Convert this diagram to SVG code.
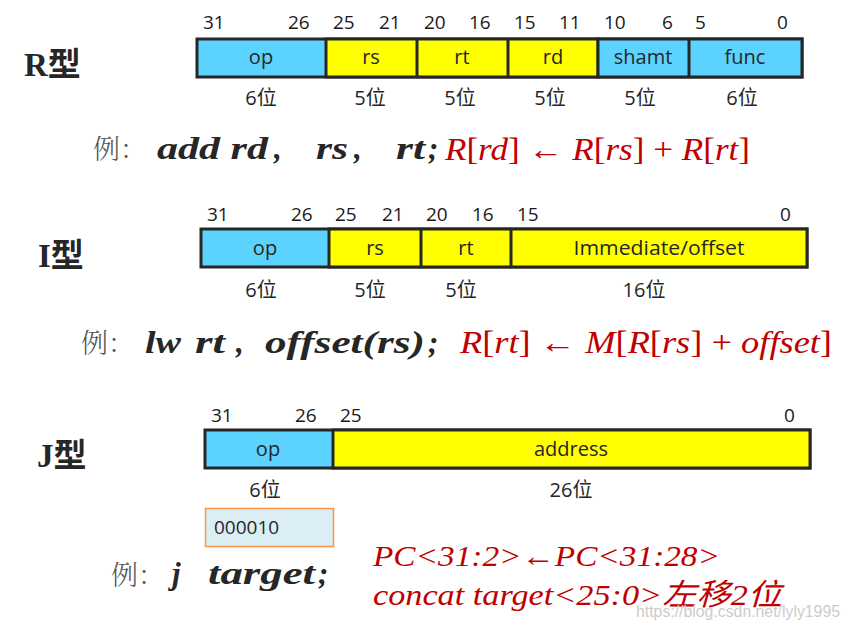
<svg xmlns="http://www.w3.org/2000/svg" width="850" height="632" viewBox="0 0 850 632">
<style>
.bg{fill:#ffffff}
.blue{fill:#5bd3fe;stroke:#262626;stroke-width:3}
.yel{fill:#ffff00;stroke:#262626;stroke-width:3}
.div{stroke:#262626;stroke-width:3}
.bit{font-family:"Open Sans","Noto Sans",sans-serif;font-size:19px;fill:#1a1a1a}
.fld{font-family:"Open Sans","Noto Sans",sans-serif;font-size:20px;fill:#262626;text-anchor:middle}
.wid{font-family:"Open Sans","Noto Sans CJK SC",sans-serif;font-size:20px;fill:#262626;text-anchor:middle}
.typ{font-family:"Liberation Serif","Noto Sans CJK SC",serif;font-size:33px;font-weight:bold;fill:#262626}
.li{font-family:"Noto Serif CJK SC","Noto Sans CJK SC",serif;font-size:27px;fill:#555555;font-weight:300}
.bi{font-family:"Liberation Serif",serif;font-size:31px;font-weight:bold;font-style:italic;fill:#262626}
.red{font-family:"Liberation Serif",serif;font-size:31px;fill:#c00000}
.redi{font-family:"Liberation Serif","Noto Sans CJK SC",serif;font-size:30px;font-style:italic;fill:#c00000}
.wm{font-family:"Liberation Sans",sans-serif;font-size:16px;fill:#cccccc}
</style>
<rect class="bg" x="0" y="0" width="850" height="632"/>

<g id="r-type">
  <text class="typ" x="24" y="76">R型</text>
  <rect class="blue" x="197" y="39" width="605" height="38"/>
  <rect class="yel" x="326" y="39" width="272" height="38"/>
  <rect class="blue" x="598" y="39" width="204" height="38"/>
  <line class="div" x1="417" y1="39" x2="417" y2="77"/>
  <line class="div" x1="508" y1="39" x2="508" y2="77"/>
  <line class="div" x1="689" y1="39" x2="689" y2="77"/>
  <text class="bit" x="203" y="29">31</text>
  <text class="bit" x="288" y="29">26</text>
  <text class="bit" x="333" y="29">25</text>
  <text class="bit" x="379" y="29">21</text>
  <text class="bit" x="424" y="29">20</text>
  <text class="bit" x="469" y="29">16</text>
  <text class="bit" x="514" y="29">15</text>
  <text class="bit" x="559" y="29">11</text>
  <text class="bit" x="604" y="29">10</text>
  <text class="bit" x="662" y="29">6</text>
  <text class="bit" x="695" y="29">5</text>
  <text class="bit" x="777" y="29">0</text>
  <text class="fld" x="261" y="64">op</text>
  <text class="fld" x="371" y="64">rs</text>
  <text class="fld" x="462" y="64">rt</text>
  <text class="fld" x="553" y="64">rd</text>
  <text class="fld" x="643" y="64">shamt</text>
  <text class="fld" x="745" y="64">func</text>
  <text class="wid" x="261" y="105">6位</text>
  <text class="wid" x="370" y="105">5位</text>
  <text class="wid" x="460" y="105">5位</text>
  <text class="wid" x="550" y="105">5位</text>
  <text class="wid" x="640" y="105">5位</text>
  <text class="wid" x="742" y="105">6位</text>
</g>

<g id="r-example">
  <text class="li" x="93" y="159">例：</text>
  <text class="bi" x="157" y="159" textLength="111" lengthAdjust="spacingAndGlyphs">add rd</text>
  <text class="bi" x="274" y="159">,</text>
  <text class="bi" x="316" y="159" textLength="32" lengthAdjust="spacingAndGlyphs">rs</text>
  <text class="bi" x="354" y="159">,</text>
  <text class="bi" x="396" y="159" textLength="29" lengthAdjust="spacingAndGlyphs">rt</text>
  <text class="bi" x="428" y="159" font-style="normal">;</text>
  <text class="red" x="445" y="160" textLength="305" lengthAdjust="spacingAndGlyphs"><tspan font-style="italic">R</tspan>[<tspan font-style="italic">rd</tspan>] ← <tspan font-style="italic">R</tspan>[<tspan font-style="italic">rs</tspan>] + <tspan font-style="italic">R</tspan>[<tspan font-style="italic">rt</tspan>]</text>
</g>

<g id="i-type">
  <text class="typ" x="38" y="267">I型</text>
  <rect class="blue" x="201" y="229" width="606" height="38"/>
  <rect class="yel" x="329" y="229" width="478" height="38"/>
  <line class="div" x1="421" y1="229" x2="421" y2="267"/>
  <line class="div" x1="511" y1="229" x2="511" y2="267"/>
  <text class="bit" x="207" y="221">31</text>
  <text class="bit" x="291" y="221">26</text>
  <text class="bit" x="335" y="221">25</text>
  <text class="bit" x="382" y="221">21</text>
  <text class="bit" x="426" y="221">20</text>
  <text class="bit" x="472" y="221">16</text>
  <text class="bit" x="517" y="221">15</text>
  <text class="bit" x="780" y="221">0</text>
  <text class="fld" x="265" y="255">op</text>
  <text class="fld" x="375" y="255">rs</text>
  <text class="fld" x="466" y="255">rt</text>
  <text class="fld" x="659" y="255" textLength="171" lengthAdjust="spacingAndGlyphs">Immediate/offset</text>
  <text class="wid" x="261" y="297">6位</text>
  <text class="wid" x="370" y="297">5位</text>
  <text class="wid" x="461" y="297">5位</text>
  <text class="wid" x="644" y="297">16位</text>
</g>

<g id="i-example">
  <text class="li" x="81" y="353">例：</text>
  <text class="bi" x="145" y="353" textLength="36" lengthAdjust="spacingAndGlyphs">lw</text>
  <text class="bi" x="195" y="353" textLength="30" lengthAdjust="spacingAndGlyphs">rt</text>
  <text class="bi" x="236" y="353">,</text>
  <text class="bi" x="265" y="353" textLength="160" lengthAdjust="spacingAndGlyphs">offset(rs)</text>
  <text class="bi" x="428" y="353" font-style="normal">;</text>
  <text class="red" x="460" y="353" textLength="372" lengthAdjust="spacingAndGlyphs"><tspan font-style="italic">R</tspan>[<tspan font-style="italic">rt</tspan>] ← <tspan font-style="italic">M</tspan>[<tspan font-style="italic">R</tspan>[<tspan font-style="italic">rs</tspan>] + <tspan font-style="italic">offset</tspan>]</text>
</g>

<g id="j-type">
  <text class="typ" x="37" y="467">J型</text>
  <rect class="blue" x="205" y="430" width="605" height="38"/>
  <rect class="yel" x="333" y="430" width="477" height="38"/>
  <text class="bit" x="211" y="422">31</text>
  <text class="bit" x="295" y="422">26</text>
  <text class="bit" x="340" y="422">25</text>
  <text class="bit" x="784" y="422">0</text>
  <text class="fld" x="268" y="456">op</text>
  <text class="fld" x="571" y="456">address</text>
  <text class="wid" x="265" y="497">6位</text>
  <text class="wid" x="571" y="497">26位</text>
</g>

<g id="opcode-box">
  <rect x="205.5" y="508.5" width="128" height="38" fill="#daeef3" stroke="#f79646" stroke-width="1.5"/>
  <text x="214" y="534" font-family="Open Sans, Noto Sans, sans-serif" font-size="19" fill="#262626">000010</text>
</g>

<g id="j-example">
  <text class="li" x="111" y="585">例：</text>
  <text class="bi" x="172" y="584">j</text>
  <text class="bi" x="208" y="584" textLength="107" lengthAdjust="spacingAndGlyphs">target</text>
  <text class="bi" x="318" y="584" font-style="normal">;</text>
  <text class="redi" x="373" y="566" textLength="347" lengthAdjust="spacingAndGlyphs">PC&lt;31:2&gt;←PC&lt;31:28&gt;</text>
  <text class="redi" x="373" y="605" textLength="409" lengthAdjust="spacingAndGlyphs">concat target&lt;25:0&gt;左移2位</text>
</g>

<text class="wm" x="636" y="617" textLength="204" lengthAdjust="spacingAndGlyphs">https://blog.csdn.net/lyly1995</text>
</svg>
